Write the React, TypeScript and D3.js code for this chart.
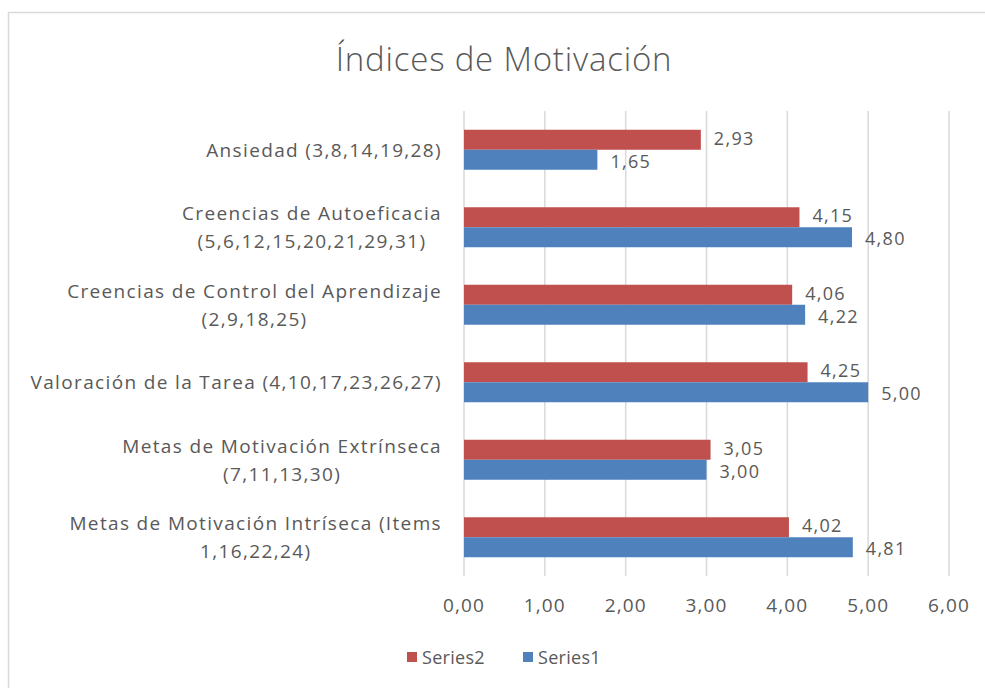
import React from "react";
import * as d3 from "d3";

const categories: string[][] = [
  ["Ansiedad (3,8,14,19,28)"],
  ["Creencias de Autoeficacia", "(5,6,12,15,20,21,29,31)"],
  ["Creencias de Control del Aprendizaje", "(2,9,18,25)"],
  ["Valoración de la Tarea (4,10,17,23,26,27)"],
  ["Metas de Motivación Extrínseca", "(7,11,13,30)"],
  ["Metas de Motivación Intríseca (Items", "1,16,22,24)"],
];
const series2 = [2.93, 4.15, 4.06, 4.25, 3.05, 4.02];
const series1 = [1.65, 4.8, 4.22, 5.0, 3.0, 4.81];
const ticks = [0, 1, 2, 3, 4, 5, 6];
const seriesNames = ["Series2", "Series1"];
const colors = ["#C0504D", "#4F81BD"];

const W = 985;
const H = 688;
const plot = { left: 464, right: 949, top: 111, bottom: 576 };
const font = "'Open Sans', sans-serif";
const textColor = "#595959";
const catSize = 19;
const catLS = 1.35;

const fmt = (v: number) => v.toFixed(2).replace(".", ",");

let ctx: CanvasRenderingContext2D | null = null;
function measure(s: string, size: number, ls: number) {
  if (!ctx) ctx = document.createElement("canvas").getContext("2d");
  if (!ctx) return s.length * size * 0.5;
  ctx.font = `${size}px 'Open Sans'`;
  return ctx.measureText(s).width + s.length * ls;
}

export default function App() {
  const x = d3.scaleLinear().domain([0, 6]).range([plot.left, plot.right]);
  const y = d3
    .scaleBand<number>()
    .domain(d3.range(categories.length))
    .range([plot.top, plot.bottom])
    .paddingInner(0.484)
    .paddingOuter(0.242);
  const sub = d3.scaleBand<number>().domain([0, 1]).range([0, y.bandwidth()]);
  const data = [series2, series1];
  const labelRight = 442;

  return (
    <svg
      width={W}
      height={H}
      style={{ position: "absolute", left: 0, top: 0, background: "#fff" }}
      fontFamily={font}
    >
      <rect x={8.5} y={12.5} width={W + 10} height={H + 10} fill="#fff" stroke="#D9D9D9" strokeWidth={1.5} />
      <text x={504} y={71} textAnchor="middle" fontSize={33} fontWeight={300} letterSpacing={0.8} fill={textColor}>
        Índices de Motivación
      </text>
      {ticks.map((t) => (
        <g key={t}>
          <line x1={x(t)} x2={x(t)} y1={plot.top} y2={plot.bottom} stroke="#D9D9D9" strokeWidth={1.5} />
          <text x={x(t)} y={612} textAnchor="middle" fontSize={catSize} letterSpacing={1.1} fill={textColor}>
            {fmt(t)}
          </text>
        </g>
      ))}
      {categories.map((lines, i) => {
        const cy = (y(i) as number) + y.bandwidth() / 2;
        const lh = 28;
        const y0 = cy - ((lines.length - 1) * lh) / 2;
        const maxW = Math.max(...lines.map((l) => measure(l, catSize, catLS)));
        const cx = labelRight - maxW / 2;
        return (
          <text key={i} fontSize={catSize} letterSpacing={catLS} fill={textColor} textAnchor="middle">
            {lines.map((l, j) => (
              <tspan key={j} x={cx} y={y0 + j * lh + 7}>
                {l}
              </tspan>
            ))}
          </text>
        );
      })}
      {data.map((s, si) =>
        s.map((v, i) => {
          const by = (y(i) as number) + (sub(si) as number);
          const dy = si === 0 ? 5 : 8;
          return (
            <g key={`${si}-${i}`}>
              <rect x={x(0)} y={by} width={x(v) - x(0)} height={sub.bandwidth()} fill={colors[si]} />
              <text x={x(v) + 13} y={by + sub.bandwidth() / 2 + dy} fontSize={18} letterSpacing={1.3} fill={textColor}>
                {fmt(v)}
              </text>
            </g>
          );
        })
      )}
      {seriesNames.map((n, i) => {
        const lx = 407 + i * 116;
        return (
          <g key={n}>
            <rect x={lx} y={652} width={10} height={10} fill={colors[i]} />
            <text x={lx + 15} y={664} fontSize={18} letterSpacing={0.3} fill={textColor}>
              {n}
            </text>
          </g>
        );
      })}
    </svg>
  );
}
